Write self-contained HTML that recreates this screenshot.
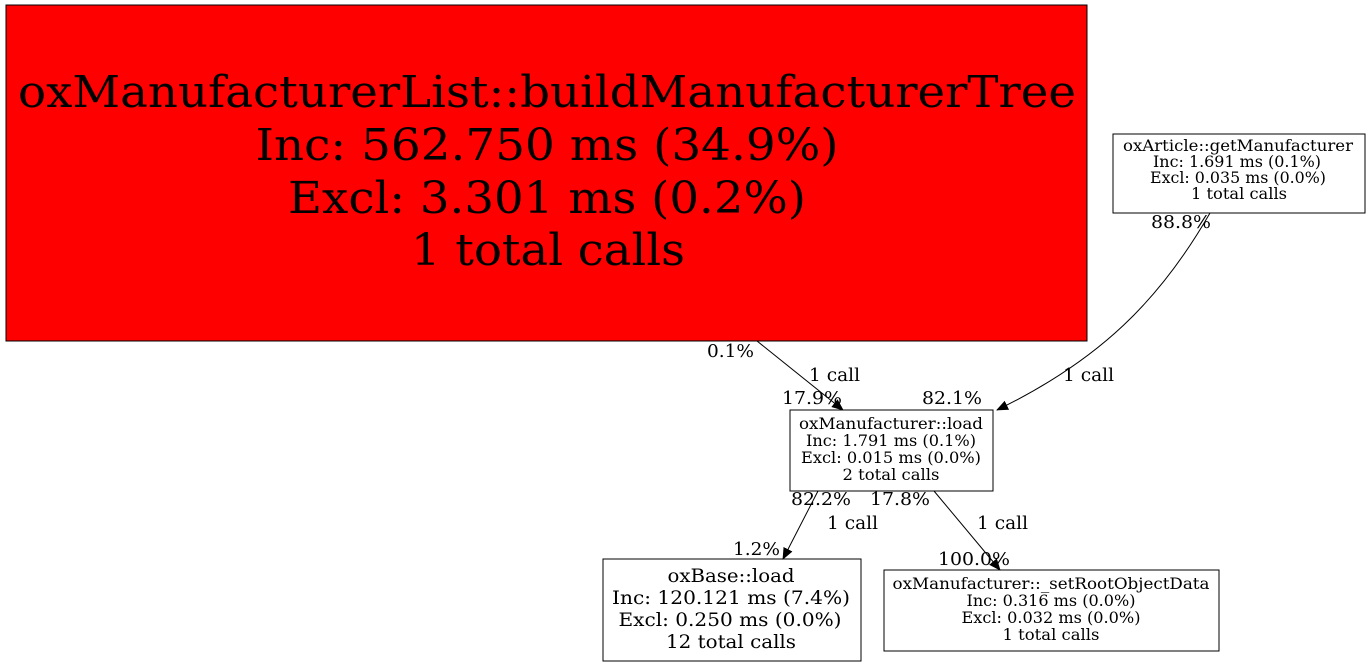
<!DOCTYPE html>
<html><head><meta charset="utf-8"><style>html,body{margin:0;padding:0;background:#fff;}svg{display:block}</style></head>
<body>
<svg width="1369" height="667" viewBox="0 0 1369 667" xmlns="http://www.w3.org/2000/svg">
<defs><marker id="a" markerWidth="12" markerHeight="12" refX="11" refY="6" orient="auto" markerUnits="userSpaceOnUse"><path d="M0,1 L12,6 L0,11 Z" fill="#000"/></marker></defs>
<rect x="6" y="5" width="1081" height="336" fill="#ff0000" stroke="#000"/>
<g font-family="DejaVu Serif, serif" font-size="44" text-anchor="middle" fill="#000">
<text x="547" y="107" textLength="1058" lengthAdjust="spacingAndGlyphs">oxManufacturerList::buildManufacturerTree</text>
<text x="547" y="160" textLength="583" lengthAdjust="spacingAndGlyphs">Inc: 562.750 ms (34.9%)</text>
<text x="547" y="213" textLength="518" lengthAdjust="spacingAndGlyphs">Excl: 3.301 ms (0.2%)</text>
<text x="548" y="265" textLength="274" lengthAdjust="spacingAndGlyphs">1 total calls</text>
</g>
<rect x="1113" y="134" width="252" height="79" fill="#fff" stroke="#000"/>
<g font-family="DejaVu Serif, serif" font-size="15.5" text-anchor="middle">
<text x="1238" y="151" textLength="230" lengthAdjust="spacingAndGlyphs">oxArticle::getManufacturer</text>
<text x="1237" y="167" textLength="168" lengthAdjust="spacingAndGlyphs">Inc: 1.691 ms (0.1%)</text>
<text x="1238" y="183" textLength="176" lengthAdjust="spacingAndGlyphs">Excl: 0.035 ms (0.0%)</text>
<text x="1239" y="199" textLength="96" lengthAdjust="spacingAndGlyphs">1 total calls</text>
</g>
<rect x="790" y="410" width="203" height="81" fill="#fff" stroke="#000"/>
<g font-family="DejaVu Serif, serif" font-size="15.5" text-anchor="middle">
<text x="891" y="429" textLength="184" lengthAdjust="spacingAndGlyphs">oxManufacturer::load</text>
<text x="891" y="446" textLength="170" lengthAdjust="spacingAndGlyphs">Inc: 1.791 ms (0.1%)</text>
<text x="891" y="463" textLength="180" lengthAdjust="spacingAndGlyphs">Excl: 0.015 ms (0.0%)</text>
<text x="891" y="480" textLength="97" lengthAdjust="spacingAndGlyphs">2 total calls</text>
</g>
<rect x="603" y="559" width="258" height="102" fill="#fff" stroke="#000"/>
<g font-family="DejaVu Serif, serif" font-size="19" text-anchor="middle">
<text x="731" y="582" textLength="127" lengthAdjust="spacingAndGlyphs">oxBase::load</text>
<text x="731" y="604" textLength="238" lengthAdjust="spacingAndGlyphs">Inc: 120.121 ms (7.4%)</text>
<text x="730" y="626" textLength="223" lengthAdjust="spacingAndGlyphs">Excl: 0.250 ms (0.0%)</text>
<text x="731" y="648" textLength="130" lengthAdjust="spacingAndGlyphs">12 total calls</text>
</g>
<rect x="884" y="570" width="335" height="81" fill="#fff" stroke="#000"/>
<g font-family="DejaVu Serif, serif" font-size="15.5" text-anchor="middle">
<text x="1051" y="589" textLength="317" lengthAdjust="spacingAndGlyphs">oxManufacturer::_setRootObjectData</text>
<text x="1051" y="606" textLength="169" lengthAdjust="spacingAndGlyphs">Inc: 0.316 ms (0.0%)</text>
<text x="1051" y="623" textLength="179" lengthAdjust="spacingAndGlyphs">Excl: 0.032 ms (0.0%)</text>
<text x="1051" y="640" textLength="97" lengthAdjust="spacingAndGlyphs">1 total calls</text>
</g>
<g stroke="#000" fill="none" stroke-width="1">
<path d="M757,341 L843,410" marker-end="url(#a)"/>
<path d="M1210,213 C1160,300 1100,360 997,410" marker-end="url(#a)"/>
<path d="M818,491 L783,559" marker-end="url(#a)"/>
<path d="M934,491 L1000,570" marker-end="url(#a)"/>
</g>
<g font-family="DejaVu Serif, serif" font-size="17.5" fill="#000">
<text x="707" y="357" textLength="47" lengthAdjust="spacingAndGlyphs">0.1%</text>
<text x="809" y="381" textLength="51" lengthAdjust="spacingAndGlyphs">1 call</text>
<text x="782" y="404" textLength="60" lengthAdjust="spacingAndGlyphs">17.9%</text>
<text x="922" y="404" textLength="60" lengthAdjust="spacingAndGlyphs">82.1%</text>
<text x="1063" y="381" textLength="51" lengthAdjust="spacingAndGlyphs">1 call</text>
<text x="1151" y="228" textLength="60" lengthAdjust="spacingAndGlyphs">88.8%</text>
<text x="791" y="505" textLength="60" lengthAdjust="spacingAndGlyphs">82.2%</text>
<text x="870" y="505" textLength="60" lengthAdjust="spacingAndGlyphs">17.8%</text>
<text x="827" y="529" textLength="51" lengthAdjust="spacingAndGlyphs">1 call</text>
<text x="977" y="529" textLength="51" lengthAdjust="spacingAndGlyphs">1 call</text>
<text x="733" y="555" textLength="47" lengthAdjust="spacingAndGlyphs">1.2%</text>
<text x="938" y="565" textLength="72" lengthAdjust="spacingAndGlyphs">100.0%</text>
</g>
</svg>
</body></html>
